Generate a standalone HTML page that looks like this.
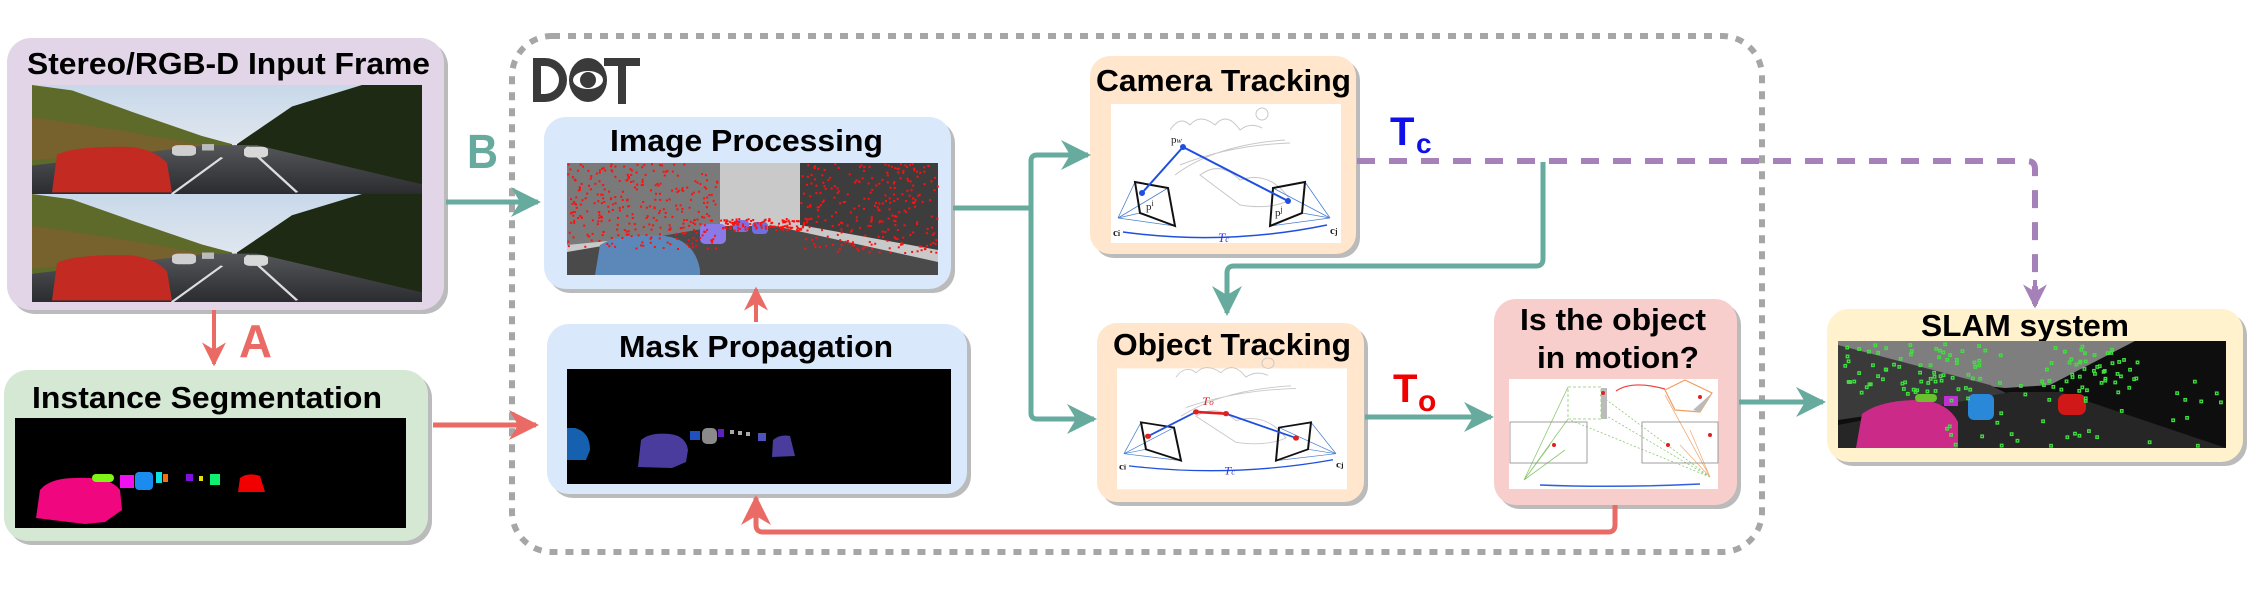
<!DOCTYPE html>
<html><head><meta charset="utf-8"><style>
html,body{margin:0;padding:0;background:#fff;}
svg{display:block;}
.t{font-family:"Liberation Sans Narrow","Liberation Sans",sans-serif;font-weight:bold;fill:#000;}
</style></head><body>
<svg width="2250" height="592" viewBox="0 0 2250 592" xmlns="http://www.w3.org/2000/svg">
<defs>
<marker id="ag" viewBox="0 0 10 10" refX="9" refY="5" markerWidth="6" markerHeight="6" orient="auto"><path d="M0,0 L10,5 L0,10 L3,5 z" fill="#67ab9f"/></marker>
<marker id="ar" viewBox="0 0 10 10" refX="9" refY="5" markerWidth="6" markerHeight="6" orient="auto"><path d="M0,0 L10,5 L0,10 L3,5 z" fill="#ea6b66"/></marker>
<marker id="ap" viewBox="0 0 10 10" refX="9" refY="5" markerWidth="6" markerHeight="6" orient="auto"><path d="M0,0 L10,5 L0,10 L3,5 z" fill="#a680b8"/></marker>
<linearGradient id="sky" x1="0" y1="0" x2="0" y2="1"><stop offset="0" stop-color="#c8d8ea"/><stop offset="1" stop-color="#f2f2f2"/></linearGradient>
<linearGradient id="road" x1="0" y1="0" x2="0" y2="1"><stop offset="0" stop-color="#55565a"/><stop offset="1" stop-color="#2b2c30"/></linearGradient>
<g id="roadimg">
 <rect width="390" height="203" fill="url(#sky)"/>
 <polygon points="0,0 40,10 100,50 170,95 200,110 200,140 0,150" fill="#5e6a2a"/>
 <polygon points="0,60 90,85 180,115 0,140" fill="#8c5a2e" opacity="0.55"/>
 <polygon points="205,110 260,40 330,0 390,0 390,203 205,203" fill="#1f2a14"/>
 <polygon points="0,150 175,112 225,112 390,185 390,203 0,203" fill="url(#road)"/>
 <line x1="215" y1="115" x2="265" y2="200" stroke="#ddd" stroke-width="3"/>
 <line x1="190" y1="135" x2="140" y2="203" stroke="#ddd" stroke-width="3"/>
 <path d="M20,200 L25,130 Q40,115 90,115 Q120,115 135,145 L140,200 z" fill="#c22a22"/>
 <rect x="140" y="112" width="24" height="20" rx="6" fill="#cfcfcf"/>
 <rect x="212" y="115" width="24" height="20" rx="6" fill="#d8d8d8"/>
 <rect x="170" y="110" width="12" height="12" fill="#bbb"/>
</g>
</defs>

<rect x="512" y="36" width="1250" height="516" rx="40" fill="none" stroke="#a6a6a6" stroke-width="6" stroke-dasharray="8 8"/>
<g fill="#3a3a3a">
 <path d="M533,58 h12 a22,22 0 0 1 0,44 h-12 z M541,66 v28 h4 a14,14 0 0 0 0,-28 z" fill-rule="evenodd"/>
 <ellipse cx="588" cy="80" rx="19" ry="22"/>
 <ellipse cx="588" cy="80" rx="15" ry="9" fill="#fff"/>
 <circle cx="588" cy="80" r="8"/>
 <rect x="604" y="58" width="36" height="8"/>
 <rect x="618" y="58" width="8" height="46"/>
</g>

<rect x="11" y="42" width="437" height="272" rx="24" fill="#bbb"/>
<rect x="7" y="38" width="437" height="272" rx="24" fill="#e1d5e7"/>
<text class="t" x="27" y="74" font-size="31" textLength="403" lengthAdjust="spacingAndGlyphs">Stereo/RGB-D Input Frame</text>
<svg x="32" y="85" width="390" height="109" viewBox="0 0 390 203" preserveAspectRatio="none"><use href="#roadimg"/></svg>
<svg x="32" y="194" width="390" height="108" viewBox="0 0 390 203" preserveAspectRatio="none"><use href="#roadimg"/></svg>

<rect x="8" y="374" width="424" height="171" rx="24" fill="#bbb"/>
<rect x="4" y="370" width="424" height="171" rx="24" fill="#d5e8d4"/>
<text class="t" x="32" y="408" font-size="31" textLength="350" lengthAdjust="spacingAndGlyphs">Instance Segmentation</text>
<rect x="15" y="418" width="391" height="110" fill="#000"/>
<path d="M36,518 L40,490 Q50,478 75,478 Q110,476 120,490 L122,510 L105,522 L85,524 z" fill="#f0067e"/>
<rect x="92" y="474" width="22" height="8" rx="4" fill="#7ef514"/>
<rect x="120" y="475" width="14" height="13" fill="#f010f0"/>
<rect x="135" y="472" width="18" height="18" rx="4" fill="#1a8cf0"/>
<rect x="156" y="472" width="6" height="11" fill="#10e0e0"/>
<rect x="163" y="474" width="5" height="8" fill="#f07010"/>
<rect x="186" y="474" width="7" height="7" fill="#8010e0"/>
<rect x="199" y="476" width="4" height="5" fill="#e0e010"/>
<rect x="210" y="474" width="10" height="11" fill="#10f070"/>
<path d="M238,492 L240,478 Q248,472 260,476 L265,492 z" fill="#f00000"/>

<rect x="548" y="121" width="407" height="172" rx="22" fill="#bbb"/>
<rect x="544" y="117" width="407" height="172" rx="22" fill="#dae8fc"/>
<text class="t" x="610" y="151" font-size="31" textLength="273" lengthAdjust="spacingAndGlyphs">Image Processing</text>
<g>
 <rect x="567" y="163" width="371" height="112" fill="#c9c9c9"/>
 <polygon points="567,163 720,163 720,230 567,245" fill="#7a7a7a"/>
 <polygon points="800,163 938,163 938,250 800,225" fill="#3d3d3d"/>
 <polygon points="567,252 720,226 775,226 938,262 938,275 567,275" fill="#4a4a4a"/>
 <path d="M595,275 L600,245 Q620,232 665,236 Q695,240 700,270 L700,275 z" fill="#5b88b8"/>
 <rect x="700" y="224" width="26" height="20" rx="5" fill="#8a7ae8"/>
 <rect x="733" y="220" width="16" height="12" rx="4" fill="#7c70e0"/>
 <rect x="752" y="222" width="16" height="12" rx="4" fill="#6c70e0"/>
 <g id="rdots" fill="#ff1010"></g>
</g>

<rect x="551" y="328" width="420" height="170" rx="22" fill="#bbb"/>
<rect x="547" y="324" width="420" height="170" rx="22" fill="#dae8fc"/>
<text class="t" x="619" y="357" font-size="31" textLength="274" lengthAdjust="spacingAndGlyphs">Mask Propagation</text>
<rect x="567" y="369" width="384" height="115" fill="#000"/>
<path d="M567,428 L575,428 Q590,432 590,450 L586,460 L567,460 z" fill="#1660b0"/>
<path d="M638,467 L641,440 Q650,432 670,434 Q686,436 688,450 L686,462 L672,468 z" fill="#4a3c9c"/>
<rect x="690" y="431" width="10" height="9" fill="#2050c0"/>
<rect x="702" y="428" width="15" height="16" rx="5" fill="#8a8a8a"/>
<rect x="718" y="429" width="6" height="8" fill="#6020c0"/>
<rect x="730" y="430" width="4" height="4" fill="#aaa"/>
<rect x="738" y="431" width="4" height="4" fill="#aaa"/>
<rect x="746" y="432" width="4" height="4" fill="#aaa"/>
<rect x="758" y="433" width="8" height="8" fill="#5050c0"/>
<path d="M772,457 L773,440 Q780,434 790,436 L795,456 z" fill="#4a3c9c"/>

<rect x="1094" y="60" width="266" height="198" rx="20" fill="#bbb"/>
<rect x="1090" y="56" width="266" height="198" rx="20" fill="#ffe6cc"/>
<text class="t" x="1096" y="91" font-size="31" textLength="255" lengthAdjust="spacingAndGlyphs">Camera Tracking</text>
<g>
 <rect x="1111" y="104" width="230" height="139" fill="#fff"/>
 <g stroke="#c8c8c8" fill="none" stroke-width="1">
  <path d="M1170,130 q10,-15 20,-5 q10,-12 25,0 q12,-14 25,5 q10,-8 22,-2"/>
  <circle cx="1262" cy="114" r="6"/>
  <path d="M1175,175 q40,-30 110,-35 M1180,165 q50,-20 110,-22"/>
  <path d="M1200,175 q20,-15 40,5 q30,-10 50,20 q-20,10 -50,5 z"/>
 </g>
 <g stroke="#4a7fd0" stroke-width="0.8" fill="none">
  <path d="M1118,218 L1135,182 M1118,218 L1175,226 M1118,218 L1168,188 M1118,218 L1140,213"/>
  <path d="M1330,218 L1305,182 M1330,218 L1270,226 M1330,218 L1273,188 M1330,218 L1302,213"/>
 </g>
 <polygon points="1135,182 1168,188 1175,226 1140,213" fill="none" stroke="#111" stroke-width="2"/>
 <polygon points="1273,188 1305,182 1302,213 1270,226" fill="none" stroke="#111" stroke-width="2"/>
 <polyline points="1142,193 1183,147 1288,201" fill="none" stroke="#1f4fe0" stroke-width="2"/>
 <circle cx="1183" cy="147" r="3" fill="#1f4fe0"/>
 <circle cx="1142" cy="193" r="3" fill="#1f4fe0"/>
 <circle cx="1288" cy="201" r="3" fill="#1f4fe0"/>
 <path d="M1123,232 Q1225,246 1327,225" fill="none" stroke="#1f4fe0" stroke-width="1.5"/>
 <g font-family="Liberation Serif,serif" font-size="11" fill="#222">
  <text x="1171" y="143">p<tspan font-size="8" font-style="italic">w</tspan></text>
  <text x="1146" y="210">p<tspan font-size="8" dy="-4">i</tspan></text>
  <text x="1275" y="216">p<tspan font-size="8" dy="-4">j</tspan></text>
  <text x="1113" y="236" font-weight="bold">c<tspan font-size="8">i</tspan></text>
  <text x="1330" y="234" font-weight="bold">c<tspan font-size="8">j</tspan></text>
  <text x="1218" y="242" fill="#3a3ae0" font-style="italic" font-size="13">T<tspan font-size="9">c</tspan></text>
 </g>
</g>

<rect x="1101" y="327" width="267" height="179" rx="20" fill="#bbb"/>
<rect x="1097" y="323" width="267" height="179" rx="20" fill="#ffe6cc"/>
<text class="t" x="1113" y="355" font-size="31" textLength="238" lengthAdjust="spacingAndGlyphs">Object Tracking</text>
<g transform="translate(6,264) scale(1,0.87)">
 <rect x="1111" y="120" width="230" height="139" fill="#fff"/>
 <g stroke="#c8c8c8" fill="none" stroke-width="1">
  <path d="M1170,130 q10,-15 20,-5 q10,-12 25,0 q12,-14 25,5 q10,-8 22,-2"/>
  <circle cx="1262" cy="114" r="6"/>
  <path d="M1175,175 q40,-30 110,-35 M1180,165 q50,-20 110,-22"/>
  <path d="M1190,175 q20,-15 40,5 q30,-10 50,20 q-20,10 -50,5 z"/>
 </g>
 <g stroke="#4a7fd0" stroke-width="0.8" fill="none">
  <path d="M1118,218 L1135,182 M1118,218 L1175,226 M1118,218 L1168,188 M1118,218 L1140,213"/>
  <path d="M1330,218 L1305,182 M1330,218 L1270,226 M1330,218 L1273,188 M1330,218 L1302,213"/>
 </g>
 <polygon points="1135,182 1168,188 1175,226 1140,213" fill="none" stroke="#111" stroke-width="2"/>
 <polygon points="1273,188 1305,182 1302,213 1270,226" fill="none" stroke="#111" stroke-width="2"/>
 <polyline points="1142,198 1190,170 1220,172 1290,200" fill="none" stroke="#1f4fe0" stroke-width="2"/>
 <line x1="1190" y1="170" x2="1220" y2="172" stroke="#e02020" stroke-width="3"/>
 <circle cx="1190" cy="170" r="3" fill="#e02020"/>
 <circle cx="1220" cy="172" r="3" fill="#e02020"/>
 <circle cx="1142" cy="198" r="3" fill="#e02020"/>
 <circle cx="1290" cy="200" r="3" fill="#e02020"/>
 <path d="M1123,232 Q1225,246 1327,225" fill="none" stroke="#1f4fe0" stroke-width="1.5"/>
 <g font-family="Liberation Serif,serif" font-size="11" fill="#222">
  <text x="1196" y="162" fill="#e02020" font-style="italic" font-size="13">T<tspan font-size="9">o</tspan></text>
  <text x="1113" y="236" font-weight="bold">c<tspan font-size="8">i</tspan></text>
  <text x="1330" y="234" font-weight="bold">c<tspan font-size="8">j</tspan></text>
  <text x="1218" y="242" fill="#3a3ae0" font-style="italic" font-size="13">T<tspan font-size="9">c</tspan></text>
 </g>
</g>

<rect x="1498" y="303" width="243" height="206" rx="22" fill="#bbb"/>
<rect x="1494" y="299" width="243" height="206" rx="22" fill="#f8cecc"/>
<text class="t" x="1520" y="330" font-size="31" textLength="186" lengthAdjust="spacingAndGlyphs">Is the object</text>
<text class="t" x="1537" y="368" font-size="31" textLength="162" lengthAdjust="spacingAndGlyphs">in motion?</text>
<rect x="1509" y="379" width="209" height="110" fill="#fff"/>
<g fill="none" stroke-width="0.8">
 <g stroke="#8cc870">
  <path d="M1524,480 L1568,387 M1524,480 L1568,419 M1524,480 L1550,445 M1524,480 L1565,450"/>
  <path d="M1710,477 L1600,395 M1710,477 L1605,415 M1710,477 L1570,420" stroke-dasharray="2 2"/>
 </g>
 <rect x="1568" y="387" width="33" height="32" stroke="#8cc870" stroke-dasharray="3 2"/>
 <g stroke="#f0b080"><path d="M1710,477 L1665,395 M1710,477 L1690,430 M1710,477 L1680,445"/></g>
 <rect x="1510" y="422" width="77" height="41" stroke="#888"/>
 <rect x="1642" y="422" width="76" height="41" stroke="#888"/>
 <polygon points="1665,390 1685,380 1712,393 1700,412 1675,410" stroke="#f0a060" stroke-width="1.2"/>
 <path d="M1540,485 Q1615,488 1700,484" stroke="#3060e0" stroke-width="1.5"/>
 <path d="M1616,391 Q1632,380 1665,389" stroke="#f04040" stroke-width="1.2"/>
</g>
<rect x="1601" y="388" width="6" height="31" fill="#bbb"/>
<polygon points="1693,410 1712,393 1700,412" fill="#bbb"/>
<circle cx="1603" cy="393" r="2" fill="#e02020"/><circle cx="1700" cy="397" r="2" fill="#e02020"/>
<circle cx="1554" cy="445" r="2" fill="#e02020"/><circle cx="1668" cy="445" r="2" fill="#e02020"/><circle cx="1710" cy="435" r="2" fill="#e02020"/>

<rect x="1831" y="313" width="416" height="153" rx="22" fill="#bbb"/>
<rect x="1827" y="309" width="416" height="153" rx="22" fill="#fff2cc"/>
<text class="t" x="1921" y="336" font-size="31" textLength="208" lengthAdjust="spacingAndGlyphs">SLAM system</text>
<g>
 <rect x="1838" y="341" width="388" height="107" fill="#0e0e0e"/>
 <polygon points="1838,341 2135,341 2050,385 2005,388 1838,370" fill="#7e7e7e"/>
 <polygon points="1838,345 1990,385 2010,395 1838,420" fill="#3a3a3a"/>
 <polygon points="1838,425 2010,392 2060,392 2226,448 1838,448" fill="#262626"/>
 <path d="M1856,448 L1862,414 Q1880,400 1920,400 Q1948,402 1958,422 L1958,448 z" fill="#cc2a88"/>
 <rect x="1915" y="394" width="22" height="8" rx="4" fill="#6cc030"/>
 <rect x="1944" y="396" width="14" height="10" fill="#c030d0"/>
 <rect x="1968" y="394" width="26" height="26" rx="6" fill="#2a88d8"/>
 <rect x="2058" y="394" width="28" height="21" rx="7" fill="#d01818"/>
 <g id="gdots" fill="none" stroke="#40e040" stroke-width="1.3"></g>
</g>

<line x1="446" y1="202" x2="538" y2="202" stroke="#67ab9f" stroke-width="5" marker-end="url(#ag)"/>
<text x="467" y="168" font-family="Liberation Sans Narrow,Liberation Sans,sans-serif" font-weight="bold" font-size="48" fill="#67ab9f" textLength="31" lengthAdjust="spacingAndGlyphs">B</text>
<line x1="214" y1="310" x2="214" y2="364" stroke="#ea6b66" stroke-width="4" marker-end="url(#ar)"/>
<text x="239" y="357" font-family="Liberation Sans Narrow,Liberation Sans,sans-serif" font-weight="bold" font-size="46" fill="#ea6b66" textLength="33" lengthAdjust="spacingAndGlyphs">A</text>
<line x1="433" y1="425" x2="536" y2="425" stroke="#ea6b66" stroke-width="5" marker-end="url(#ar)"/>
<line x1="756" y1="322" x2="756" y2="289" stroke="#ea6b66" stroke-width="4" marker-end="url(#ar)"/>
<path d="M1615,505 V525 q0,7 -7,7 H763 q-7,0 -7,-7 V498" fill="none" stroke="#ea6b66" stroke-width="5" marker-end="url(#ar)"/>
<path d="M953,208 H1031 M1031,208 V161 q0,-6 6,-6 H1087 M1031,208 V413 q0,6 6,6 H1087" fill="none" stroke="#67ab9f" stroke-width="5"/>
<path d="M1070,155 H1088" stroke="#67ab9f" stroke-width="5" marker-end="url(#ag)"/>
<path d="M1070,419 H1094" stroke="#67ab9f" stroke-width="5" marker-end="url(#ag)"/>
<path d="M1357,161 H2027 q8,0 8,8 V306" fill="none" stroke="#a680b8" stroke-width="6" stroke-dasharray="18 14"/>
<path d="M2035,280 V306" stroke="#a680b8" stroke-width="4" marker-end="url(#ap)"/>
<path d="M1543,162 V259 q0,7 -7,7 H1234 q-7,0 -7,7 V313" fill="none" stroke="#67ab9f" stroke-width="5" marker-end="url(#ag)"/>
<line x1="1365" y1="417" x2="1491" y2="417" stroke="#67ab9f" stroke-width="5" marker-end="url(#ag)"/>
<line x1="1739" y1="402" x2="1823" y2="402" stroke="#67ab9f" stroke-width="5" marker-end="url(#ag)"/>
<text x="1390" y="145" font-family="Liberation Sans Narrow,Liberation Sans,sans-serif" font-weight="bold" font-size="40" fill="#1010e8">T</text>
<text x="1416" y="153" font-family="Liberation Sans Narrow,Liberation Sans,sans-serif" font-weight="bold" font-size="28" fill="#1010e8">c</text>
<text x="1393" y="402" font-family="Liberation Sans Narrow,Liberation Sans,sans-serif" font-weight="bold" font-size="40" fill="#f00000">T</text>
<text x="1418" y="411" font-family="Liberation Sans Narrow,Liberation Sans,sans-serif" font-weight="bold" font-size="30" fill="#f00000">o</text>
</svg>
<script>
(function(){
var ns="http://www.w3.org/2000/svg",s=7;
function r(){s=(s*16807)%2147483647;return s/2147483647;}
var g=document.getElementById("rdots");
for(var i=0;i<700;i++){var x,y,k=r();
 if(k<0.5){x=567+r()*150;y=163+r()*85;}else if(k<0.85){x=800+r()*138;y=163+r()*90;}else{x=720+r()*90;y=218+r()*12;}
 var c=document.createElementNS(ns,"rect");c.setAttribute("x",x.toFixed(1));c.setAttribute("y",y.toFixed(1));c.setAttribute("width",2);c.setAttribute("height",2);g.appendChild(c);}
var h=document.getElementById("gdots");
for(var j=0;j<160;j++){var a=r(),xx,yy;
 if(a<0.45){xx=1840+r()*160;yy=343+r()*50;}else if(a<0.7){xx=2040+r()*100;yy=345+r()*45;}else{xx=1900+r()*320;yy=380+r()*65;}
 var q=document.createElementNS(ns,"rect");q.setAttribute("x",xx.toFixed(1));q.setAttribute("y",yy.toFixed(1));q.setAttribute("width",2.5);q.setAttribute("height",2.5);h.appendChild(q);}
})();
</script>
</body></html>
